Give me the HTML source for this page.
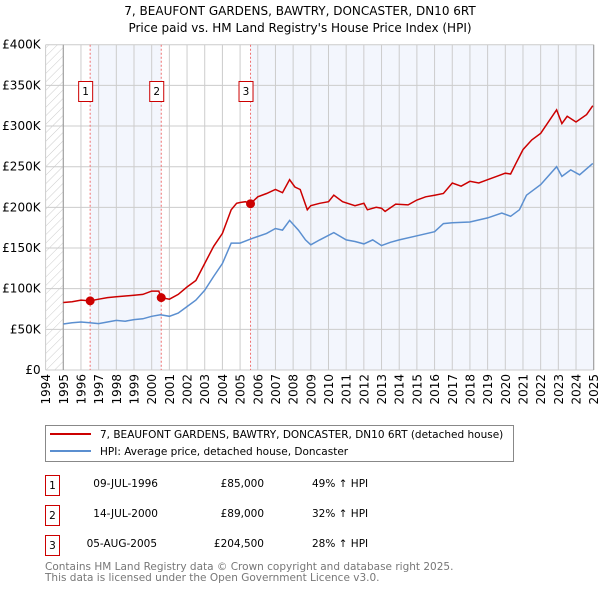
<!DOCTYPE html>
<html><head><meta charset="utf-8"><style>
body{margin:0;background:#fff;font-family:"DejaVu Sans","Liberation Sans",sans-serif;}
svg text{font-family:"DejaVu Sans","Liberation Sans",sans-serif;}
</style></head><body>
<svg id="chart" width="600" height="590" xmlns="http://www.w3.org/2000/svg">
<defs><pattern id="hatch" width="6" height="6" patternUnits="userSpaceOnUse" patternTransform="rotate(45)"><line x1="0" y1="0" x2="0" y2="6" stroke="#ccc" stroke-width="1"/></pattern></defs>
<text x="300" y="15" font-size="12" text-anchor="middle">7, BEAUFONT GARDENS, BAWTRY, DONCASTER, DN10 6RT</text>
<text x="300" y="32" font-size="12" text-anchor="middle">Price paid vs. HM Land Registry's House Price Index (HPI)</text>
<g id="plot"></g>
<rect x="45.5" y="425.5" width="468" height="36" fill="#fff" stroke="#888"/>
<line x1="50" y1="434" x2="91" y2="434" stroke="#cc0000" stroke-width="2"/>
<text x="100" y="438" font-size="10.5">7, BEAUFONT GARDENS, BAWTRY, DONCASTER, DN10 6RT (detached house)</text>
<line x1="50" y1="451" x2="91" y2="451" stroke="#5b8fd0" stroke-width="2"/>
<text x="100" y="455" font-size="10.5">HPI: Average price, detached house, Doncaster</text>
<g font-size="10.5">
<rect x="45.5" y="475.5" width="14" height="20" fill="#fff" stroke="#cc0000"/><text x="52.5" y="489" text-anchor="middle">1</text>
<text x="158" y="487" text-anchor="end">09-JUL-1996</text><text x="264" y="487" text-anchor="end">£85,000</text><text x="312" y="487">49% ↑ HPI</text>
<rect x="45.5" y="505.5" width="14" height="20" fill="#fff" stroke="#cc0000"/><text x="52.5" y="519" text-anchor="middle">2</text>
<text x="158" y="517" text-anchor="end">14-JUL-2000</text><text x="264" y="517" text-anchor="end">£89,000</text><text x="312" y="517">32% ↑ HPI</text>
<rect x="45.5" y="535.5" width="14" height="20" fill="#fff" stroke="#cc0000"/><text x="52.5" y="549" text-anchor="middle">3</text>
<text x="157" y="547" text-anchor="end">05-AUG-2005</text><text x="264" y="547" text-anchor="end">£204,500</text><text x="312" y="547">28% ↑ HPI</text>
</g>
<text x="45" y="570" font-size="10.5" fill="#777">Contains HM Land Registry data © Crown copyright and database right 2025.</text>
<text x="45" y="581" font-size="10.5" fill="#777">This data is licensed under the Open Government Licence v3.0.</text>
</svg>
<script>
const yTicks=[0,50,100,150,200,250,300,350,400];
const yTickLabels=["£0","£50K","£100K","£150K","£200K","£250K","£300K","£350K","£400K"];
const years=[1994,1995,1996,1997,1998,1999,2000,2001,2002,2003,2004,2005,2006,2007,2008,2009,2010,2011,2012,2013,2014,2015,2016,2017,2018,2019,2020,2021,2022,2023,2024,2025];
const saleDates=[1996.52,2000.54,2005.59];
const salePrices=[85,89,204.5];
const saleLabels=["1","2","3"];
const redT=[1995,1995.5,1996,1996.52,1997,1997.5,1998,1998.5,1999,1999.5,2000,2000.4,2000.54,2001,2001.5,2002,2002.5,2003,2003.5,2004,2004.5,2004.8,2005,2005.3,2005.59,2006,2006.5,2007,2007.4,2007.8,2008.1,2008.4,2008.8,2009,2009.5,2010,2010.3,2010.8,2011.5,2012,2012.2,2012.7,2013,2013.2,2013.8,2014.5,2015,2015.5,2016,2016.5,2017,2017.5,2018,2018.5,2019,2019.5,2020,2020.3,2020.6,2021,2021.5,2022,2022.5,2022.9,2023.2,2023.5,2024,2024.6,2024.95];
const redV=[83,84,86,85,87,89,90,91,92,93,97,97,89,87,93,102,110,131,152,168,197,205,206,207,204.5,213,217,222,218,234,225,222,197,202,205,207,215,207,202,205,197,200,199,195,204,203,209,213,215,217,230,226,232,230,234,238,242,241,254,271,283,291,307,320,303,312,305,314,325];
const blueT=[1995,1995.5,1996,1996.5,1997,1997.5,1998,1998.5,1999,1999.5,2000,2000.5,2001,2001.5,2002,2002.5,2003,2003.5,2004,2004.5,2005,2005.7,2006.5,2007,2007.4,2007.8,2008.3,2008.7,2009,2009.5,2010.3,2011,2011.5,2012,2012.5,2013,2013.5,2014,2015,2016,2016.5,2017,2018,2019,2019.8,2020.3,2020.8,2021.2,2022,2022.9,2023.2,2023.7,2024.2,2024.95];
const blueV=[56.6,58,59,58,57,59,61,60,62,63,66,68,66,70,78,86,98,115,131,156,156,162,168,174,172,184,172,160,154,160,169,160,158,155,160,153,157,160,165,170,180,181,182,187,193,189,197,215,228,250,238,246,240,254];
const X0=45.6,X1=593.7,Y0=370,Y1=44.7;
const xs=t=>X0+(t-1994)/(2025-1994)*(X1-X0);
const ys=v=>Y0-v/400*(Y0-Y1);
const NS="http://www.w3.org/2000/svg";
const g=document.getElementById('plot');
function mk(tag,attrs){const e=document.createElementNS(NS,tag);for(const k in attrs)e.setAttribute(k,attrs[k]);g.appendChild(e);return e;}
let e;
e=mk('rect',{x:xs(1994),y:Y1,width:xs(1995)-xs(1994),height:Y0-Y1,fill:'url(#hatch)'});


e=mk('rect',{x:xs(saleDates[0]),y:Y1,width:xs(saleDates[1])-xs(saleDates[0]),height:Y0-Y1,fill:'#f3f6fd'});


e=mk('rect',{x:xs(saleDates[2]),y:Y1,width:xs(2025)-xs(saleDates[2]),height:Y0-Y1,fill:'#f3f6fd'});


years.forEach(yr=>{
 e=mk('line',{x1:xs(yr),x2:xs(yr),y1:Y1,y2:Y0,stroke:'#ccc','stroke-width':1});
 
 
 e=mk('text',{x:0,y:0,'font-size':12,'text-anchor':'end',transform:`translate(${xs(yr)+4.5},${Y0+4}) rotate(-90)`});
 e.textContent=yr;
 
 
});
yTicks.forEach((v,i)=>{
 e=mk('line',{x1:X0,x2:X1,y1:ys(v),y2:ys(v),stroke:'#ccc','stroke-width':1});
 
 
 e=mk('text',{x:X0-5,y:ys(v)+4,'font-size':12,'text-anchor':'end'});
 e.textContent=yTickLabels[i];
 
 
});
e=mk('line',{x1:xs(1995),x2:xs(1995),y1:Y1,y2:Y0,stroke:'#999'});


e=mk('line',{x1:X1,x2:X1,y1:Y1,y2:Y0,stroke:'#999'});


saleDates.forEach((d,i)=>{
 e=mk('line',{x1:xs(d),x2:xs(d),y1:Y1,y2:Y0,stroke:'#f07070','stroke-dasharray':'2,2'});
 
 
 e=mk('rect',{x:xs(d)-11.5,y:81.5,width:14,height:20,fill:'#fff',stroke:'#cc0000'});
 
 
 e=mk('text',{x:xs(d)-4.5,y:95,'font-size':10.5,'text-anchor':'middle'});
 e.textContent=saleLabels[i];
 
 
});
const path=(T,V)=>T.map((t,i)=>(i?'L':'M')+xs(t).toFixed(1)+','+ys(V[i]).toFixed(1)).join('');
e=mk('path',{d:path(blueT,blueV),fill:'none',stroke:'#5b8fd0','stroke-width':1.5});


e=mk('path',{d:path(redT,redV),fill:'none',stroke:'#cc0000','stroke-width':1.5});


saleDates.forEach((d,i)=>{
 e=mk('circle',{cx:xs(d),cy:ys(salePrices[i]),r:4.5,fill:'#cc0000'});
 
 
});
</script>
</body></html>
